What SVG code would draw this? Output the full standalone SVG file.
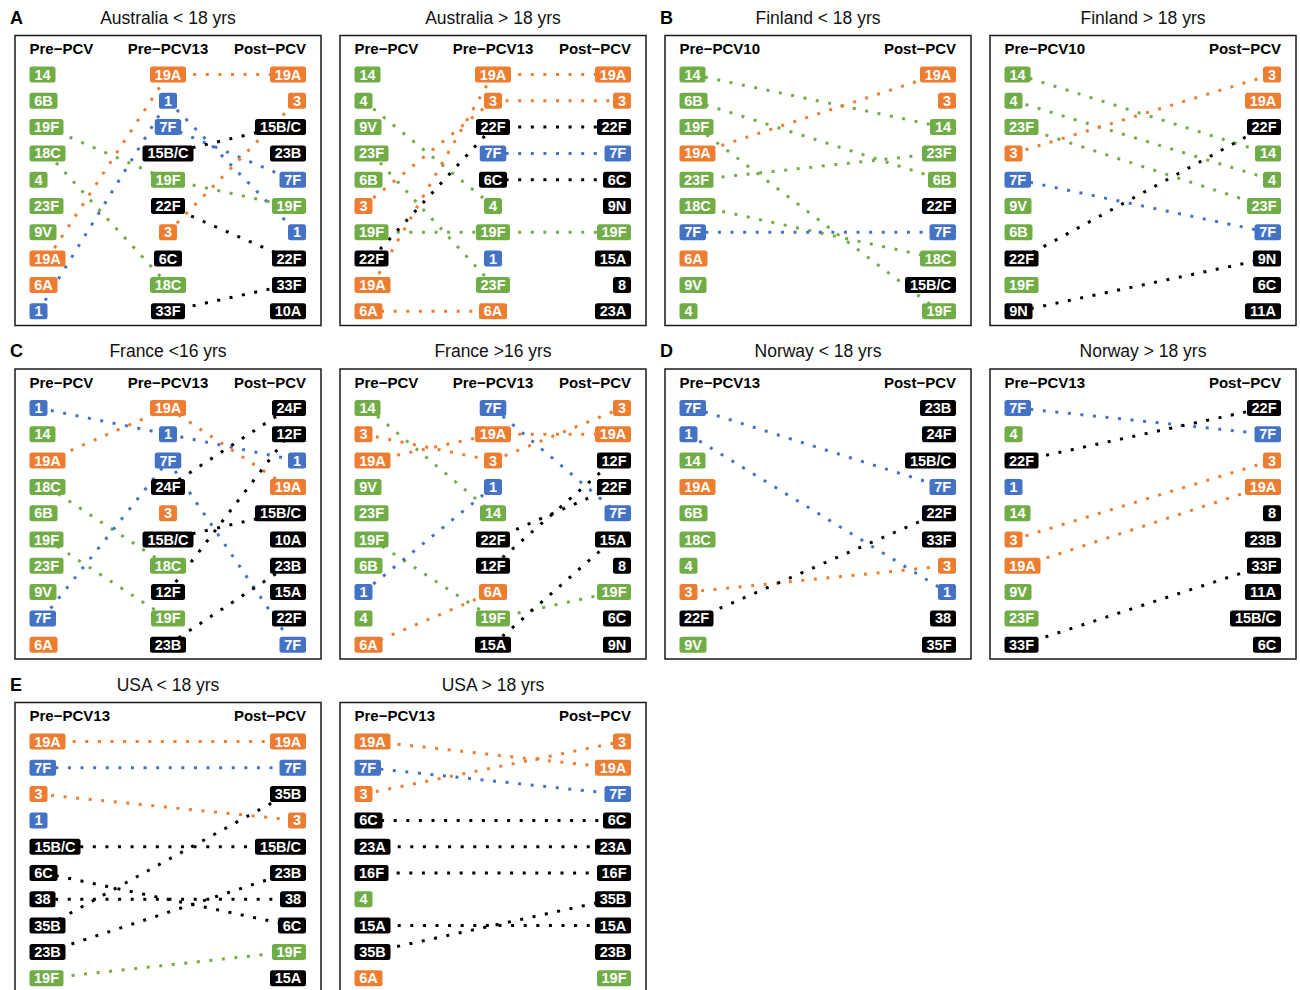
<svg xmlns="http://www.w3.org/2000/svg" width="1300" height="990" viewBox="0 0 1300 990">
<style>
.box{fill:#fff;stroke:#1a1a1a;stroke-width:1.5}
.ttl{font-family:"Liberation Sans",Arial,sans-serif;font-size:17.5px;fill:#111;text-anchor:middle}
.let{font-family:"Liberation Sans",Arial,sans-serif;font-size:18px;font-weight:bold;fill:#000}
.hd{font-family:"Liberation Sans",Arial,sans-serif;font-size:15px;font-weight:bold;fill:#000}
.hm{text-anchor:middle}.he{text-anchor:end}
.nodes text{font-family:"Liberation Sans",Arial,sans-serif;font-size:14.5px;font-weight:bold;fill:#fff;text-anchor:middle}
.nodes rect{height:16px}
.g>rect{fill:#70AD47}.o>rect{fill:#ED7D31}.b>rect{fill:#4472C4}.k>rect{fill:#000}
#connectors line{stroke-width:3;stroke-dasharray:3 9.6;fill:none}
.cg{stroke:#70AD47}.co{stroke:#ED7D31}.cb{stroke:#4472C4}.ck{stroke:#000}
</style>

<g id="panels">
<g transform="translate(15,35.5)"><rect class="box" x="0" y="0" width="306" height="290"/><text class="let" x="-5" y="-12">A</text><text class="ttl" x="153" y="-12">Australia &lt; 18 yrs</text><text class="hd" x="14.5" y="18.5">Pre−PCV</text><text class="hd hm" x="153" y="18.5">Pre−PCV13</text><text class="hd he" x="291" y="18.5">Post−PCV</text></g>
<g transform="translate(340,35.5)"><rect class="box" x="0" y="0" width="306" height="290"/><text class="ttl" x="153" y="-12">Australia &gt; 18 yrs</text><text class="hd" x="14.5" y="18.5">Pre−PCV</text><text class="hd hm" x="153" y="18.5">Pre−PCV13</text><text class="hd he" x="291" y="18.5">Post−PCV</text></g>
<g transform="translate(665,35.5)"><rect class="box" x="0" y="0" width="306" height="290"/><text class="let" x="-5" y="-12">B</text><text class="ttl" x="153" y="-12">Finland &lt; 18 yrs</text><text class="hd" x="14.5" y="18.5">Pre−PCV10</text><text class="hd he" x="291" y="18.5">Post−PCV</text></g>
<g transform="translate(990,35.5)"><rect class="box" x="0" y="0" width="306" height="290"/><text class="ttl" x="153" y="-12">Finland &gt; 18 yrs</text><text class="hd" x="14.5" y="18.5">Pre−PCV10</text><text class="hd he" x="291" y="18.5">Post−PCV</text></g>
<g transform="translate(15,369)"><rect class="box" x="0" y="0" width="306" height="290"/><text class="let" x="-5" y="-12">C</text><text class="ttl" x="153" y="-12">France &lt;16 yrs</text><text class="hd" x="14.5" y="18.5">Pre−PCV</text><text class="hd hm" x="153" y="18.5">Pre−PCV13</text><text class="hd he" x="291" y="18.5">Post−PCV</text></g>
<g transform="translate(340,369)"><rect class="box" x="0" y="0" width="306" height="290"/><text class="ttl" x="153" y="-12">France &gt;16 yrs</text><text class="hd" x="14.5" y="18.5">Pre−PCV</text><text class="hd hm" x="153" y="18.5">Pre−PCV13</text><text class="hd he" x="291" y="18.5">Post−PCV</text></g>
<g transform="translate(665,369)"><rect class="box" x="0" y="0" width="306" height="290"/><text class="let" x="-5" y="-12">D</text><text class="ttl" x="153" y="-12">Norway &lt; 18 yrs</text><text class="hd" x="14.5" y="18.5">Pre−PCV13</text><text class="hd he" x="291" y="18.5">Post−PCV</text></g>
<g transform="translate(990,369)"><rect class="box" x="0" y="0" width="306" height="290"/><text class="ttl" x="153" y="-12">Norway &gt; 18 yrs</text><text class="hd" x="14.5" y="18.5">Pre−PCV13</text><text class="hd he" x="291" y="18.5">Post−PCV</text></g>
<g transform="translate(15,702.5)"><rect class="box" x="0" y="0" width="306" height="290"/><text class="let" x="-5" y="-12">E</text><text class="ttl" x="153" y="-12">USA &lt; 18 yrs</text><text class="hd" x="14.5" y="18.5">Pre−PCV13</text><text class="hd he" x="291" y="18.5">Post−PCV</text></g>
<g transform="translate(340,702.5)"><rect class="box" x="0" y="0" width="306" height="290"/><text class="ttl" x="153" y="-12">USA &gt; 18 yrs</text><text class="hd" x="14.5" y="18.5">Pre−PCV13</text><text class="hd he" x="291" y="18.5">Post−PCV</text></g>
</g>

<g id="connectors">
<g transform="translate(15,35.5)">
<line class="cg" x1="31.5" y1="91.6" x2="153" y2="144.2"/>
<line class="cg" x1="32.5" y1="117.9" x2="153" y2="249.4"/>
<line class="co" x1="32.5" y1="223.1" x2="153" y2="39"/>
<line class="cb" x1="23.5" y1="275.7" x2="153" y2="65.3"/>
<line class="co" x1="153" y1="39" x2="273" y2="39"/>
<line class="cb" x1="153" y1="65.3" x2="282" y2="196.8"/>
<line class="cb" x1="153" y1="91.6" x2="277.75" y2="144.2"/>
<line class="ck" x1="153" y1="117.9" x2="265.5" y2="91.6"/>
<line class="cg" x1="153" y1="144.2" x2="274" y2="170.5"/>
<line class="ck" x1="153" y1="170.5" x2="274" y2="223.1"/>
<line class="co" x1="153" y1="196.8" x2="282" y2="65.3"/>
<line class="ck" x1="153" y1="275.7" x2="274" y2="249.4"/>
</g>
<g transform="translate(340,35.5)">
<line class="cg" x1="23.5" y1="65.3" x2="153" y2="170.5"/>
<line class="cg" x1="31.5" y1="117.9" x2="153" y2="249.4"/>
<line class="co" x1="23.5" y1="170.5" x2="153" y2="65.3"/>
<line class="cg" x1="31.5" y1="196.8" x2="153" y2="196.8"/>
<line class="ck" x1="31.5" y1="223.1" x2="153" y2="91.6"/>
<line class="co" x1="32.5" y1="249.4" x2="153" y2="39"/>
<line class="co" x1="28.5" y1="275.7" x2="153" y2="275.7"/>
<line class="co" x1="153" y1="39" x2="273" y2="39"/>
<line class="co" x1="153" y1="65.3" x2="282" y2="65.3"/>
<line class="ck" x1="153" y1="91.6" x2="274" y2="91.6"/>
<line class="cb" x1="153" y1="117.9" x2="277.75" y2="117.9"/>
<line class="ck" x1="153" y1="144.2" x2="277" y2="144.2"/>
<line class="cg" x1="153" y1="196.8" x2="274" y2="196.8"/>
</g>
<g transform="translate(665,35.5)">
<line class="cg" x1="27.5" y1="39" x2="278" y2="91.6"/>
<line class="cg" x1="28.5" y1="65.3" x2="277" y2="144.2"/>
<line class="cg" x1="31.5" y1="91.6" x2="274" y2="275.7"/>
<line class="co" x1="32.5" y1="117.9" x2="273" y2="39"/>
<line class="cg" x1="31.5" y1="144.2" x2="274" y2="117.9"/>
<line class="cg" x1="32.5" y1="170.5" x2="273" y2="223.1"/>
<line class="cb" x1="27.75" y1="196.8" x2="277.75" y2="196.8"/>
</g>
<g transform="translate(990,35.5)">
<line class="cg" x1="27.5" y1="39" x2="278" y2="117.9"/>
<line class="cg" x1="23.5" y1="65.3" x2="282" y2="144.2"/>
<line class="cg" x1="31.5" y1="91.6" x2="274" y2="170.5"/>
<line class="co" x1="23.5" y1="117.9" x2="282" y2="39"/>
<line class="cb" x1="27.75" y1="144.2" x2="277.75" y2="196.8"/>
<line class="ck" x1="31.5" y1="223.1" x2="274" y2="91.6"/>
<line class="ck" x1="28.5" y1="275.7" x2="277" y2="223.1"/>
</g>
<g transform="translate(15,369)">
<line class="cb" x1="23.5" y1="39" x2="153" y2="65.3"/>
<line class="co" x1="32.5" y1="91.6" x2="153" y2="39"/>
<line class="cg" x1="32.5" y1="117.9" x2="153" y2="196.8"/>
<line class="cg" x1="31.5" y1="170.5" x2="153" y2="249.4"/>
<line class="cb" x1="27.75" y1="249.4" x2="153" y2="91.6"/>
<line class="co" x1="153" y1="39" x2="273" y2="117.9"/>
<line class="cb" x1="153" y1="65.3" x2="282" y2="91.6"/>
<line class="cb" x1="153" y1="91.6" x2="277.75" y2="275.7"/>
<line class="ck" x1="153" y1="117.9" x2="274" y2="39"/>
<line class="ck" x1="153" y1="170.5" x2="265.5" y2="144.2"/>
<line class="ck" x1="153" y1="223.1" x2="274" y2="65.3"/>
<line class="ck" x1="153" y1="275.7" x2="273" y2="196.8"/>
</g>
<g transform="translate(340,369)">
<line class="cg" x1="27.5" y1="39" x2="153" y2="144.2"/>
<line class="co" x1="23.5" y1="65.3" x2="153" y2="91.6"/>
<line class="co" x1="32.5" y1="91.6" x2="153" y2="65.3"/>
<line class="cg" x1="31.5" y1="170.5" x2="153" y2="249.4"/>
<line class="cb" x1="23.5" y1="223.1" x2="153" y2="117.9"/>
<line class="co" x1="28.5" y1="275.7" x2="153" y2="223.1"/>
<line class="cb" x1="153" y1="39" x2="277.75" y2="144.2"/>
<line class="co" x1="153" y1="65.3" x2="273" y2="65.3"/>
<line class="co" x1="153" y1="91.6" x2="282" y2="39"/>
<line class="ck" x1="153" y1="170.5" x2="274" y2="117.9"/>
<line class="ck" x1="153" y1="196.8" x2="274" y2="91.6"/>
<line class="cg" x1="153" y1="249.4" x2="274" y2="223.1"/>
<line class="ck" x1="153" y1="275.7" x2="273" y2="170.5"/>
</g>
<g transform="translate(665,369)">
<line class="cb" x1="27.75" y1="39" x2="277.75" y2="117.9"/>
<line class="cb" x1="23.5" y1="65.3" x2="282" y2="223.1"/>
<line class="co" x1="23.5" y1="223.1" x2="282" y2="196.8"/>
<line class="ck" x1="31.5" y1="249.4" x2="274" y2="144.2"/>
</g>
<g transform="translate(990,369)">
<line class="cb" x1="27.75" y1="39" x2="277.75" y2="65.3"/>
<line class="ck" x1="31.5" y1="91.6" x2="274" y2="39"/>
<line class="co" x1="23.5" y1="170.5" x2="282" y2="91.6"/>
<line class="co" x1="32.5" y1="196.8" x2="273" y2="117.9"/>
<line class="ck" x1="31.5" y1="275.7" x2="274" y2="196.8"/>
</g>
<g transform="translate(15,702.5)">
<line class="co" x1="32.5" y1="39" x2="273" y2="39"/>
<line class="cb" x1="27.75" y1="65.3" x2="277.75" y2="65.3"/>
<line class="co" x1="23.5" y1="91.6" x2="282" y2="117.9"/>
<line class="ck" x1="40" y1="144.2" x2="265.5" y2="144.2"/>
<line class="ck" x1="28.5" y1="170.5" x2="277" y2="223.1"/>
<line class="ck" x1="27.5" y1="196.8" x2="278" y2="196.8"/>
<line class="ck" x1="32.5" y1="223.1" x2="273" y2="91.6"/>
<line class="ck" x1="32.5" y1="249.4" x2="273" y2="170.5"/>
<line class="cg" x1="31.5" y1="275.7" x2="274" y2="249.4"/>
</g>
<g transform="translate(340,702.5)">
<line class="co" x1="32.5" y1="39" x2="273" y2="65.3"/>
<line class="cb" x1="27.75" y1="65.3" x2="277.75" y2="91.6"/>
<line class="co" x1="23.5" y1="91.6" x2="282" y2="39"/>
<line class="ck" x1="28.5" y1="117.9" x2="277" y2="117.9"/>
<line class="ck" x1="32.5" y1="144.2" x2="273" y2="144.2"/>
<line class="ck" x1="31.5" y1="170.5" x2="274" y2="170.5"/>
<line class="ck" x1="32.5" y1="223.1" x2="273" y2="223.1"/>
<line class="ck" x1="32.5" y1="249.4" x2="273" y2="196.8"/>
</g>
</g>

<g class="nodes">
<g transform="translate(15,35.5)">
<g id="A1-L-14" class="g" transform="translate(27.5,39)"><rect x="-13" y="-8" width="26" rx="2.5"/><text y="5">14</text></g>
<g id="A1-L-6B" class="g" transform="translate(28.5,65.3)"><rect x="-14" y="-8" width="28" rx="2.5"/><text y="5">6B</text></g>
<g id="A1-L-19F" class="g" transform="translate(31.5,91.6)"><rect x="-17" y="-8" width="34" rx="2.5"/><text y="5">19F</text></g>
<g id="A1-L-18C" class="g" transform="translate(32.5,117.9)"><rect x="-18" y="-8" width="36" rx="2.5"/><text y="5">18C</text></g>
<g id="A1-L-4" class="g" transform="translate(23.5,144.2)"><rect x="-9" y="-8" width="18" rx="2.5"/><text y="5">4</text></g>
<g id="A1-L-23F" class="g" transform="translate(31.5,170.5)"><rect x="-17" y="-8" width="34" rx="2.5"/><text y="5">23F</text></g>
<g id="A1-L-9V" class="g" transform="translate(28,196.8)"><rect x="-13.5" y="-8" width="27" rx="2.5"/><text y="5">9V</text></g>
<g id="A1-L-19A" class="o" transform="translate(32.5,223.1)"><rect x="-18" y="-8" width="36" rx="2.5"/><text y="5">19A</text></g>
<g id="A1-L-6A" class="o" transform="translate(28.5,249.4)"><rect x="-14" y="-8" width="28" rx="2.5"/><text y="5">6A</text></g>
<g id="A1-L-1" class="b" transform="translate(23.5,275.7)"><rect x="-9" y="-8" width="18" rx="2.5"/><text y="5">1</text></g>
<g id="A1-M-19A" class="o" transform="translate(153,39)"><rect x="-18" y="-8" width="36" rx="2.5"/><text y="5">19A</text></g>
<g id="A1-M-1" class="b" transform="translate(153,65.3)"><rect x="-9" y="-8" width="18" rx="2.5"/><text y="5">1</text></g>
<g id="A1-M-7F" class="b" transform="translate(153,91.6)"><rect x="-13.25" y="-8" width="26.5" rx="2.5"/><text y="5">7F</text></g>
<g id="A1-M-15BC" class="k" transform="translate(153,117.9)"><rect x="-25.5" y="-8" width="51" rx="2.5"/><text y="5">15B/C</text></g>
<g id="A1-M-19F" class="g" transform="translate(153,144.2)"><rect x="-17" y="-8" width="34" rx="2.5"/><text y="5">19F</text></g>
<g id="A1-M-22F" class="k" transform="translate(153,170.5)"><rect x="-17" y="-8" width="34" rx="2.5"/><text y="5">22F</text></g>
<g id="A1-M-3" class="o" transform="translate(153,196.8)"><rect x="-9" y="-8" width="18" rx="2.5"/><text y="5">3</text></g>
<g id="A1-M-6C" class="k" transform="translate(153,223.1)"><rect x="-14" y="-8" width="28" rx="2.5"/><text y="5">6C</text></g>
<g id="A1-M-18C" class="g" transform="translate(153,249.4)"><rect x="-18" y="-8" width="36" rx="2.5"/><text y="5">18C</text></g>
<g id="A1-M-33F" class="k" transform="translate(153,275.7)"><rect x="-17" y="-8" width="34" rx="2.5"/><text y="5">33F</text></g>
<g id="A1-R-19A" class="o" transform="translate(273,39)"><rect x="-18" y="-8" width="36" rx="2.5"/><text y="5">19A</text></g>
<g id="A1-R-3" class="o" transform="translate(282,65.3)"><rect x="-9" y="-8" width="18" rx="2.5"/><text y="5">3</text></g>
<g id="A1-R-15BC" class="k" transform="translate(265.5,91.6)"><rect x="-25.5" y="-8" width="51" rx="2.5"/><text y="5">15B/C</text></g>
<g id="A1-R-23B" class="k" transform="translate(273,117.9)"><rect x="-18" y="-8" width="36" rx="2.5"/><text y="5">23B</text></g>
<g id="A1-R-7F" class="b" transform="translate(277.75,144.2)"><rect x="-13.25" y="-8" width="26.5" rx="2.5"/><text y="5">7F</text></g>
<g id="A1-R-19F" class="g" transform="translate(274,170.5)"><rect x="-17" y="-8" width="34" rx="2.5"/><text y="5">19F</text></g>
<g id="A1-R-1" class="b" transform="translate(282,196.8)"><rect x="-9" y="-8" width="18" rx="2.5"/><text y="5">1</text></g>
<g id="A1-R-22F" class="k" transform="translate(274,223.1)"><rect x="-17" y="-8" width="34" rx="2.5"/><text y="5">22F</text></g>
<g id="A1-R-33F" class="k" transform="translate(274,249.4)"><rect x="-17" y="-8" width="34" rx="2.5"/><text y="5">33F</text></g>
<g id="A1-R-10A" class="k" transform="translate(273,275.7)"><rect x="-18" y="-8" width="36" rx="2.5"/><text y="5">10A</text></g>
</g>

<g transform="translate(340,35.5)">
<g id="A2-L-14" class="g" transform="translate(27.5,39)"><rect x="-13" y="-8" width="26" rx="2.5"/><text y="5">14</text></g>
<g id="A2-L-4" class="g" transform="translate(23.5,65.3)"><rect x="-9" y="-8" width="18" rx="2.5"/><text y="5">4</text></g>
<g id="A2-L-9V" class="g" transform="translate(28,91.6)"><rect x="-13.5" y="-8" width="27" rx="2.5"/><text y="5">9V</text></g>
<g id="A2-L-23F" class="g" transform="translate(31.5,117.9)"><rect x="-17" y="-8" width="34" rx="2.5"/><text y="5">23F</text></g>
<g id="A2-L-6B" class="g" transform="translate(28.5,144.2)"><rect x="-14" y="-8" width="28" rx="2.5"/><text y="5">6B</text></g>
<g id="A2-L-3" class="o" transform="translate(23.5,170.5)"><rect x="-9" y="-8" width="18" rx="2.5"/><text y="5">3</text></g>
<g id="A2-L-19F" class="g" transform="translate(31.5,196.8)"><rect x="-17" y="-8" width="34" rx="2.5"/><text y="5">19F</text></g>
<g id="A2-L-22F" class="k" transform="translate(31.5,223.1)"><rect x="-17" y="-8" width="34" rx="2.5"/><text y="5">22F</text></g>
<g id="A2-L-19A" class="o" transform="translate(32.5,249.4)"><rect x="-18" y="-8" width="36" rx="2.5"/><text y="5">19A</text></g>
<g id="A2-L-6A" class="o" transform="translate(28.5,275.7)"><rect x="-14" y="-8" width="28" rx="2.5"/><text y="5">6A</text></g>
<g id="A2-M-19A" class="o" transform="translate(153,39)"><rect x="-18" y="-8" width="36" rx="2.5"/><text y="5">19A</text></g>
<g id="A2-M-3" class="o" transform="translate(153,65.3)"><rect x="-9" y="-8" width="18" rx="2.5"/><text y="5">3</text></g>
<g id="A2-M-22F" class="k" transform="translate(153,91.6)"><rect x="-17" y="-8" width="34" rx="2.5"/><text y="5">22F</text></g>
<g id="A2-M-7F" class="b" transform="translate(153,117.9)"><rect x="-13.25" y="-8" width="26.5" rx="2.5"/><text y="5">7F</text></g>
<g id="A2-M-6C" class="k" transform="translate(153,144.2)"><rect x="-14" y="-8" width="28" rx="2.5"/><text y="5">6C</text></g>
<g id="A2-M-4" class="g" transform="translate(153,170.5)"><rect x="-9" y="-8" width="18" rx="2.5"/><text y="5">4</text></g>
<g id="A2-M-19F" class="g" transform="translate(153,196.8)"><rect x="-17" y="-8" width="34" rx="2.5"/><text y="5">19F</text></g>
<g id="A2-M-1" class="b" transform="translate(153,223.1)"><rect x="-9" y="-8" width="18" rx="2.5"/><text y="5">1</text></g>
<g id="A2-M-23F" class="g" transform="translate(153,249.4)"><rect x="-17" y="-8" width="34" rx="2.5"/><text y="5">23F</text></g>
<g id="A2-M-6A" class="o" transform="translate(153,275.7)"><rect x="-14" y="-8" width="28" rx="2.5"/><text y="5">6A</text></g>
<g id="A2-R-19A" class="o" transform="translate(273,39)"><rect x="-18" y="-8" width="36" rx="2.5"/><text y="5">19A</text></g>
<g id="A2-R-3" class="o" transform="translate(282,65.3)"><rect x="-9" y="-8" width="18" rx="2.5"/><text y="5">3</text></g>
<g id="A2-R-22F" class="k" transform="translate(274,91.6)"><rect x="-17" y="-8" width="34" rx="2.5"/><text y="5">22F</text></g>
<g id="A2-R-7F" class="b" transform="translate(277.75,117.9)"><rect x="-13.25" y="-8" width="26.5" rx="2.5"/><text y="5">7F</text></g>
<g id="A2-R-6C" class="k" transform="translate(277,144.2)"><rect x="-14" y="-8" width="28" rx="2.5"/><text y="5">6C</text></g>
<g id="A2-R-9N" class="k" transform="translate(277,170.5)"><rect x="-14" y="-8" width="28" rx="2.5"/><text y="5">9N</text></g>
<g id="A2-R-19F" class="g" transform="translate(274,196.8)"><rect x="-17" y="-8" width="34" rx="2.5"/><text y="5">19F</text></g>
<g id="A2-R-15A" class="k" transform="translate(273,223.1)"><rect x="-18" y="-8" width="36" rx="2.5"/><text y="5">15A</text></g>
<g id="A2-R-8" class="k" transform="translate(282,249.4)"><rect x="-9" y="-8" width="18" rx="2.5"/><text y="5">8</text></g>
<g id="A2-R-23A" class="k" transform="translate(273,275.7)"><rect x="-18" y="-8" width="36" rx="2.5"/><text y="5">23A</text></g>
</g>

<g transform="translate(665,35.5)">
<g id="B1-L-14" class="g" transform="translate(27.5,39)"><rect x="-13" y="-8" width="26" rx="2.5"/><text y="5">14</text></g>
<g id="B1-L-6B" class="g" transform="translate(28.5,65.3)"><rect x="-14" y="-8" width="28" rx="2.5"/><text y="5">6B</text></g>
<g id="B1-L-19F" class="g" transform="translate(31.5,91.6)"><rect x="-17" y="-8" width="34" rx="2.5"/><text y="5">19F</text></g>
<g id="B1-L-19A" class="o" transform="translate(32.5,117.9)"><rect x="-18" y="-8" width="36" rx="2.5"/><text y="5">19A</text></g>
<g id="B1-L-23F" class="g" transform="translate(31.5,144.2)"><rect x="-17" y="-8" width="34" rx="2.5"/><text y="5">23F</text></g>
<g id="B1-L-18C" class="g" transform="translate(32.5,170.5)"><rect x="-18" y="-8" width="36" rx="2.5"/><text y="5">18C</text></g>
<g id="B1-L-7F" class="b" transform="translate(27.75,196.8)"><rect x="-13.25" y="-8" width="26.5" rx="2.5"/><text y="5">7F</text></g>
<g id="B1-L-6A" class="o" transform="translate(28.5,223.1)"><rect x="-14" y="-8" width="28" rx="2.5"/><text y="5">6A</text></g>
<g id="B1-L-9V" class="g" transform="translate(28,249.4)"><rect x="-13.5" y="-8" width="27" rx="2.5"/><text y="5">9V</text></g>
<g id="B1-L-4" class="g" transform="translate(23.5,275.7)"><rect x="-9" y="-8" width="18" rx="2.5"/><text y="5">4</text></g>
<g id="B1-R-19A" class="o" transform="translate(273,39)"><rect x="-18" y="-8" width="36" rx="2.5"/><text y="5">19A</text></g>
<g id="B1-R-3" class="o" transform="translate(282,65.3)"><rect x="-9" y="-8" width="18" rx="2.5"/><text y="5">3</text></g>
<g id="B1-R-14" class="g" transform="translate(278,91.6)"><rect x="-13" y="-8" width="26" rx="2.5"/><text y="5">14</text></g>
<g id="B1-R-23F" class="g" transform="translate(274,117.9)"><rect x="-17" y="-8" width="34" rx="2.5"/><text y="5">23F</text></g>
<g id="B1-R-6B" class="g" transform="translate(277,144.2)"><rect x="-14" y="-8" width="28" rx="2.5"/><text y="5">6B</text></g>
<g id="B1-R-22F" class="k" transform="translate(274,170.5)"><rect x="-17" y="-8" width="34" rx="2.5"/><text y="5">22F</text></g>
<g id="B1-R-7F" class="b" transform="translate(277.75,196.8)"><rect x="-13.25" y="-8" width="26.5" rx="2.5"/><text y="5">7F</text></g>
<g id="B1-R-18C" class="g" transform="translate(273,223.1)"><rect x="-18" y="-8" width="36" rx="2.5"/><text y="5">18C</text></g>
<g id="B1-R-15BC" class="k" transform="translate(265.5,249.4)"><rect x="-25.5" y="-8" width="51" rx="2.5"/><text y="5">15B/C</text></g>
<g id="B1-R-19F" class="g" transform="translate(274,275.7)"><rect x="-17" y="-8" width="34" rx="2.5"/><text y="5">19F</text></g>
</g>

<g transform="translate(990,35.5)">
<g id="B2-L-14" class="g" transform="translate(27.5,39)"><rect x="-13" y="-8" width="26" rx="2.5"/><text y="5">14</text></g>
<g id="B2-L-4" class="g" transform="translate(23.5,65.3)"><rect x="-9" y="-8" width="18" rx="2.5"/><text y="5">4</text></g>
<g id="B2-L-23F" class="g" transform="translate(31.5,91.6)"><rect x="-17" y="-8" width="34" rx="2.5"/><text y="5">23F</text></g>
<g id="B2-L-3" class="o" transform="translate(23.5,117.9)"><rect x="-9" y="-8" width="18" rx="2.5"/><text y="5">3</text></g>
<g id="B2-L-7F" class="b" transform="translate(27.75,144.2)"><rect x="-13.25" y="-8" width="26.5" rx="2.5"/><text y="5">7F</text></g>
<g id="B2-L-9V" class="g" transform="translate(28,170.5)"><rect x="-13.5" y="-8" width="27" rx="2.5"/><text y="5">9V</text></g>
<g id="B2-L-6B" class="g" transform="translate(28.5,196.8)"><rect x="-14" y="-8" width="28" rx="2.5"/><text y="5">6B</text></g>
<g id="B2-L-22F" class="k" transform="translate(31.5,223.1)"><rect x="-17" y="-8" width="34" rx="2.5"/><text y="5">22F</text></g>
<g id="B2-L-19F" class="g" transform="translate(31.5,249.4)"><rect x="-17" y="-8" width="34" rx="2.5"/><text y="5">19F</text></g>
<g id="B2-L-9N" class="k" transform="translate(28.5,275.7)"><rect x="-14" y="-8" width="28" rx="2.5"/><text y="5">9N</text></g>
<g id="B2-R-3" class="o" transform="translate(282,39)"><rect x="-9" y="-8" width="18" rx="2.5"/><text y="5">3</text></g>
<g id="B2-R-19A" class="o" transform="translate(273,65.3)"><rect x="-18" y="-8" width="36" rx="2.5"/><text y="5">19A</text></g>
<g id="B2-R-22F" class="k" transform="translate(274,91.6)"><rect x="-17" y="-8" width="34" rx="2.5"/><text y="5">22F</text></g>
<g id="B2-R-14" class="g" transform="translate(278,117.9)"><rect x="-13" y="-8" width="26" rx="2.5"/><text y="5">14</text></g>
<g id="B2-R-4" class="g" transform="translate(282,144.2)"><rect x="-9" y="-8" width="18" rx="2.5"/><text y="5">4</text></g>
<g id="B2-R-23F" class="g" transform="translate(274,170.5)"><rect x="-17" y="-8" width="34" rx="2.5"/><text y="5">23F</text></g>
<g id="B2-R-7F" class="b" transform="translate(277.75,196.8)"><rect x="-13.25" y="-8" width="26.5" rx="2.5"/><text y="5">7F</text></g>
<g id="B2-R-9N" class="k" transform="translate(277,223.1)"><rect x="-14" y="-8" width="28" rx="2.5"/><text y="5">9N</text></g>
<g id="B2-R-6C" class="k" transform="translate(277,249.4)"><rect x="-14" y="-8" width="28" rx="2.5"/><text y="5">6C</text></g>
<g id="B2-R-11A" class="k" transform="translate(273,275.7)"><rect x="-18" y="-8" width="36" rx="2.5"/><text y="5">11A</text></g>
</g>

<g transform="translate(15,369)">
<g id="C1-L-1" class="b" transform="translate(23.5,39)"><rect x="-9" y="-8" width="18" rx="2.5"/><text y="5">1</text></g>
<g id="C1-L-14" class="g" transform="translate(27.5,65.3)"><rect x="-13" y="-8" width="26" rx="2.5"/><text y="5">14</text></g>
<g id="C1-L-19A" class="o" transform="translate(32.5,91.6)"><rect x="-18" y="-8" width="36" rx="2.5"/><text y="5">19A</text></g>
<g id="C1-L-18C" class="g" transform="translate(32.5,117.9)"><rect x="-18" y="-8" width="36" rx="2.5"/><text y="5">18C</text></g>
<g id="C1-L-6B" class="g" transform="translate(28.5,144.2)"><rect x="-14" y="-8" width="28" rx="2.5"/><text y="5">6B</text></g>
<g id="C1-L-19F" class="g" transform="translate(31.5,170.5)"><rect x="-17" y="-8" width="34" rx="2.5"/><text y="5">19F</text></g>
<g id="C1-L-23F" class="g" transform="translate(31.5,196.8)"><rect x="-17" y="-8" width="34" rx="2.5"/><text y="5">23F</text></g>
<g id="C1-L-9V" class="g" transform="translate(28,223.1)"><rect x="-13.5" y="-8" width="27" rx="2.5"/><text y="5">9V</text></g>
<g id="C1-L-7F" class="b" transform="translate(27.75,249.4)"><rect x="-13.25" y="-8" width="26.5" rx="2.5"/><text y="5">7F</text></g>
<g id="C1-L-6A" class="o" transform="translate(28.5,275.7)"><rect x="-14" y="-8" width="28" rx="2.5"/><text y="5">6A</text></g>
<g id="C1-M-19A" class="o" transform="translate(153,39)"><rect x="-18" y="-8" width="36" rx="2.5"/><text y="5">19A</text></g>
<g id="C1-M-1" class="b" transform="translate(153,65.3)"><rect x="-9" y="-8" width="18" rx="2.5"/><text y="5">1</text></g>
<g id="C1-M-7F" class="b" transform="translate(153,91.6)"><rect x="-13.25" y="-8" width="26.5" rx="2.5"/><text y="5">7F</text></g>
<g id="C1-M-24F" class="k" transform="translate(153,117.9)"><rect x="-17" y="-8" width="34" rx="2.5"/><text y="5">24F</text></g>
<g id="C1-M-3" class="o" transform="translate(153,144.2)"><rect x="-9" y="-8" width="18" rx="2.5"/><text y="5">3</text></g>
<g id="C1-M-15BC" class="k" transform="translate(153,170.5)"><rect x="-25.5" y="-8" width="51" rx="2.5"/><text y="5">15B/C</text></g>
<g id="C1-M-18C" class="g" transform="translate(153,196.8)"><rect x="-18" y="-8" width="36" rx="2.5"/><text y="5">18C</text></g>
<g id="C1-M-12F" class="k" transform="translate(153,223.1)"><rect x="-17" y="-8" width="34" rx="2.5"/><text y="5">12F</text></g>
<g id="C1-M-19F" class="g" transform="translate(153,249.4)"><rect x="-17" y="-8" width="34" rx="2.5"/><text y="5">19F</text></g>
<g id="C1-M-23B" class="k" transform="translate(153,275.7)"><rect x="-18" y="-8" width="36" rx="2.5"/><text y="5">23B</text></g>
<g id="C1-R-24F" class="k" transform="translate(274,39)"><rect x="-17" y="-8" width="34" rx="2.5"/><text y="5">24F</text></g>
<g id="C1-R-12F" class="k" transform="translate(274,65.3)"><rect x="-17" y="-8" width="34" rx="2.5"/><text y="5">12F</text></g>
<g id="C1-R-1" class="b" transform="translate(282,91.6)"><rect x="-9" y="-8" width="18" rx="2.5"/><text y="5">1</text></g>
<g id="C1-R-19A" class="o" transform="translate(273,117.9)"><rect x="-18" y="-8" width="36" rx="2.5"/><text y="5">19A</text></g>
<g id="C1-R-15BC" class="k" transform="translate(265.5,144.2)"><rect x="-25.5" y="-8" width="51" rx="2.5"/><text y="5">15B/C</text></g>
<g id="C1-R-10A" class="k" transform="translate(273,170.5)"><rect x="-18" y="-8" width="36" rx="2.5"/><text y="5">10A</text></g>
<g id="C1-R-23B" class="k" transform="translate(273,196.8)"><rect x="-18" y="-8" width="36" rx="2.5"/><text y="5">23B</text></g>
<g id="C1-R-15A" class="k" transform="translate(273,223.1)"><rect x="-18" y="-8" width="36" rx="2.5"/><text y="5">15A</text></g>
<g id="C1-R-22F" class="k" transform="translate(274,249.4)"><rect x="-17" y="-8" width="34" rx="2.5"/><text y="5">22F</text></g>
<g id="C1-R-7F" class="b" transform="translate(277.75,275.7)"><rect x="-13.25" y="-8" width="26.5" rx="2.5"/><text y="5">7F</text></g>
</g>

<g transform="translate(340,369)">
<g id="C2-L-14" class="g" transform="translate(27.5,39)"><rect x="-13" y="-8" width="26" rx="2.5"/><text y="5">14</text></g>
<g id="C2-L-3" class="o" transform="translate(23.5,65.3)"><rect x="-9" y="-8" width="18" rx="2.5"/><text y="5">3</text></g>
<g id="C2-L-19A" class="o" transform="translate(32.5,91.6)"><rect x="-18" y="-8" width="36" rx="2.5"/><text y="5">19A</text></g>
<g id="C2-L-9V" class="g" transform="translate(28,117.9)"><rect x="-13.5" y="-8" width="27" rx="2.5"/><text y="5">9V</text></g>
<g id="C2-L-23F" class="g" transform="translate(31.5,144.2)"><rect x="-17" y="-8" width="34" rx="2.5"/><text y="5">23F</text></g>
<g id="C2-L-19F" class="g" transform="translate(31.5,170.5)"><rect x="-17" y="-8" width="34" rx="2.5"/><text y="5">19F</text></g>
<g id="C2-L-6B" class="g" transform="translate(28.5,196.8)"><rect x="-14" y="-8" width="28" rx="2.5"/><text y="5">6B</text></g>
<g id="C2-L-1" class="b" transform="translate(23.5,223.1)"><rect x="-9" y="-8" width="18" rx="2.5"/><text y="5">1</text></g>
<g id="C2-L-4" class="g" transform="translate(23.5,249.4)"><rect x="-9" y="-8" width="18" rx="2.5"/><text y="5">4</text></g>
<g id="C2-L-6A" class="o" transform="translate(28.5,275.7)"><rect x="-14" y="-8" width="28" rx="2.5"/><text y="5">6A</text></g>
<g id="C2-M-7F" class="b" transform="translate(153,39)"><rect x="-13.25" y="-8" width="26.5" rx="2.5"/><text y="5">7F</text></g>
<g id="C2-M-19A" class="o" transform="translate(153,65.3)"><rect x="-18" y="-8" width="36" rx="2.5"/><text y="5">19A</text></g>
<g id="C2-M-3" class="o" transform="translate(153,91.6)"><rect x="-9" y="-8" width="18" rx="2.5"/><text y="5">3</text></g>
<g id="C2-M-1" class="b" transform="translate(153,117.9)"><rect x="-9" y="-8" width="18" rx="2.5"/><text y="5">1</text></g>
<g id="C2-M-14" class="g" transform="translate(153,144.2)"><rect x="-13" y="-8" width="26" rx="2.5"/><text y="5">14</text></g>
<g id="C2-M-22F" class="k" transform="translate(153,170.5)"><rect x="-17" y="-8" width="34" rx="2.5"/><text y="5">22F</text></g>
<g id="C2-M-12F" class="k" transform="translate(153,196.8)"><rect x="-17" y="-8" width="34" rx="2.5"/><text y="5">12F</text></g>
<g id="C2-M-6A" class="o" transform="translate(153,223.1)"><rect x="-14" y="-8" width="28" rx="2.5"/><text y="5">6A</text></g>
<g id="C2-M-19F" class="g" transform="translate(153,249.4)"><rect x="-17" y="-8" width="34" rx="2.5"/><text y="5">19F</text></g>
<g id="C2-M-15A" class="k" transform="translate(153,275.7)"><rect x="-18" y="-8" width="36" rx="2.5"/><text y="5">15A</text></g>
<g id="C2-R-3" class="o" transform="translate(282,39)"><rect x="-9" y="-8" width="18" rx="2.5"/><text y="5">3</text></g>
<g id="C2-R-19A" class="o" transform="translate(273,65.3)"><rect x="-18" y="-8" width="36" rx="2.5"/><text y="5">19A</text></g>
<g id="C2-R-12F" class="k" transform="translate(274,91.6)"><rect x="-17" y="-8" width="34" rx="2.5"/><text y="5">12F</text></g>
<g id="C2-R-22F" class="k" transform="translate(274,117.9)"><rect x="-17" y="-8" width="34" rx="2.5"/><text y="5">22F</text></g>
<g id="C2-R-7F" class="b" transform="translate(277.75,144.2)"><rect x="-13.25" y="-8" width="26.5" rx="2.5"/><text y="5">7F</text></g>
<g id="C2-R-15A" class="k" transform="translate(273,170.5)"><rect x="-18" y="-8" width="36" rx="2.5"/><text y="5">15A</text></g>
<g id="C2-R-8" class="k" transform="translate(282,196.8)"><rect x="-9" y="-8" width="18" rx="2.5"/><text y="5">8</text></g>
<g id="C2-R-19F" class="g" transform="translate(274,223.1)"><rect x="-17" y="-8" width="34" rx="2.5"/><text y="5">19F</text></g>
<g id="C2-R-6C" class="k" transform="translate(277,249.4)"><rect x="-14" y="-8" width="28" rx="2.5"/><text y="5">6C</text></g>
<g id="C2-R-9N" class="k" transform="translate(277,275.7)"><rect x="-14" y="-8" width="28" rx="2.5"/><text y="5">9N</text></g>
</g>

<g transform="translate(665,369)">
<g id="D1-L-7F" class="b" transform="translate(27.75,39)"><rect x="-13.25" y="-8" width="26.5" rx="2.5"/><text y="5">7F</text></g>
<g id="D1-L-1" class="b" transform="translate(23.5,65.3)"><rect x="-9" y="-8" width="18" rx="2.5"/><text y="5">1</text></g>
<g id="D1-L-14" class="g" transform="translate(27.5,91.6)"><rect x="-13" y="-8" width="26" rx="2.5"/><text y="5">14</text></g>
<g id="D1-L-19A" class="o" transform="translate(32.5,117.9)"><rect x="-18" y="-8" width="36" rx="2.5"/><text y="5">19A</text></g>
<g id="D1-L-6B" class="g" transform="translate(28.5,144.2)"><rect x="-14" y="-8" width="28" rx="2.5"/><text y="5">6B</text></g>
<g id="D1-L-18C" class="g" transform="translate(32.5,170.5)"><rect x="-18" y="-8" width="36" rx="2.5"/><text y="5">18C</text></g>
<g id="D1-L-4" class="g" transform="translate(23.5,196.8)"><rect x="-9" y="-8" width="18" rx="2.5"/><text y="5">4</text></g>
<g id="D1-L-3" class="o" transform="translate(23.5,223.1)"><rect x="-9" y="-8" width="18" rx="2.5"/><text y="5">3</text></g>
<g id="D1-L-22F" class="k" transform="translate(31.5,249.4)"><rect x="-17" y="-8" width="34" rx="2.5"/><text y="5">22F</text></g>
<g id="D1-L-9V" class="g" transform="translate(28,275.7)"><rect x="-13.5" y="-8" width="27" rx="2.5"/><text y="5">9V</text></g>
<g id="D1-R-23B" class="k" transform="translate(273,39)"><rect x="-18" y="-8" width="36" rx="2.5"/><text y="5">23B</text></g>
<g id="D1-R-24F" class="k" transform="translate(274,65.3)"><rect x="-17" y="-8" width="34" rx="2.5"/><text y="5">24F</text></g>
<g id="D1-R-15BC" class="k" transform="translate(265.5,91.6)"><rect x="-25.5" y="-8" width="51" rx="2.5"/><text y="5">15B/C</text></g>
<g id="D1-R-7F" class="b" transform="translate(277.75,117.9)"><rect x="-13.25" y="-8" width="26.5" rx="2.5"/><text y="5">7F</text></g>
<g id="D1-R-22F" class="k" transform="translate(274,144.2)"><rect x="-17" y="-8" width="34" rx="2.5"/><text y="5">22F</text></g>
<g id="D1-R-33F" class="k" transform="translate(274,170.5)"><rect x="-17" y="-8" width="34" rx="2.5"/><text y="5">33F</text></g>
<g id="D1-R-3" class="o" transform="translate(282,196.8)"><rect x="-9" y="-8" width="18" rx="2.5"/><text y="5">3</text></g>
<g id="D1-R-1" class="b" transform="translate(282,223.1)"><rect x="-9" y="-8" width="18" rx="2.5"/><text y="5">1</text></g>
<g id="D1-R-38" class="k" transform="translate(278,249.4)"><rect x="-13" y="-8" width="26" rx="2.5"/><text y="5">38</text></g>
<g id="D1-R-35F" class="k" transform="translate(274,275.7)"><rect x="-17" y="-8" width="34" rx="2.5"/><text y="5">35F</text></g>
</g>

<g transform="translate(990,369)">
<g id="D2-L-7F" class="b" transform="translate(27.75,39)"><rect x="-13.25" y="-8" width="26.5" rx="2.5"/><text y="5">7F</text></g>
<g id="D2-L-4" class="g" transform="translate(23.5,65.3)"><rect x="-9" y="-8" width="18" rx="2.5"/><text y="5">4</text></g>
<g id="D2-L-22F" class="k" transform="translate(31.5,91.6)"><rect x="-17" y="-8" width="34" rx="2.5"/><text y="5">22F</text></g>
<g id="D2-L-1" class="b" transform="translate(23.5,117.9)"><rect x="-9" y="-8" width="18" rx="2.5"/><text y="5">1</text></g>
<g id="D2-L-14" class="g" transform="translate(27.5,144.2)"><rect x="-13" y="-8" width="26" rx="2.5"/><text y="5">14</text></g>
<g id="D2-L-3" class="o" transform="translate(23.5,170.5)"><rect x="-9" y="-8" width="18" rx="2.5"/><text y="5">3</text></g>
<g id="D2-L-19A" class="o" transform="translate(32.5,196.8)"><rect x="-18" y="-8" width="36" rx="2.5"/><text y="5">19A</text></g>
<g id="D2-L-9V" class="g" transform="translate(28,223.1)"><rect x="-13.5" y="-8" width="27" rx="2.5"/><text y="5">9V</text></g>
<g id="D2-L-23F" class="g" transform="translate(31.5,249.4)"><rect x="-17" y="-8" width="34" rx="2.5"/><text y="5">23F</text></g>
<g id="D2-L-33F" class="k" transform="translate(31.5,275.7)"><rect x="-17" y="-8" width="34" rx="2.5"/><text y="5">33F</text></g>
<g id="D2-R-22F" class="k" transform="translate(274,39)"><rect x="-17" y="-8" width="34" rx="2.5"/><text y="5">22F</text></g>
<g id="D2-R-7F" class="b" transform="translate(277.75,65.3)"><rect x="-13.25" y="-8" width="26.5" rx="2.5"/><text y="5">7F</text></g>
<g id="D2-R-3" class="o" transform="translate(282,91.6)"><rect x="-9" y="-8" width="18" rx="2.5"/><text y="5">3</text></g>
<g id="D2-R-19A" class="o" transform="translate(273,117.9)"><rect x="-18" y="-8" width="36" rx="2.5"/><text y="5">19A</text></g>
<g id="D2-R-8" class="k" transform="translate(282,144.2)"><rect x="-9" y="-8" width="18" rx="2.5"/><text y="5">8</text></g>
<g id="D2-R-23B" class="k" transform="translate(273,170.5)"><rect x="-18" y="-8" width="36" rx="2.5"/><text y="5">23B</text></g>
<g id="D2-R-33F" class="k" transform="translate(274,196.8)"><rect x="-17" y="-8" width="34" rx="2.5"/><text y="5">33F</text></g>
<g id="D2-R-11A" class="k" transform="translate(273,223.1)"><rect x="-18" y="-8" width="36" rx="2.5"/><text y="5">11A</text></g>
<g id="D2-R-15BC" class="k" transform="translate(265.5,249.4)"><rect x="-25.5" y="-8" width="51" rx="2.5"/><text y="5">15B/C</text></g>
<g id="D2-R-6C" class="k" transform="translate(277,275.7)"><rect x="-14" y="-8" width="28" rx="2.5"/><text y="5">6C</text></g>
</g>

<g transform="translate(15,702.5)">
<g id="E1-L-19A" class="o" transform="translate(32.5,39)"><rect x="-18" y="-8" width="36" rx="2.5"/><text y="5">19A</text></g>
<g id="E1-L-7F" class="b" transform="translate(27.75,65.3)"><rect x="-13.25" y="-8" width="26.5" rx="2.5"/><text y="5">7F</text></g>
<g id="E1-L-3" class="o" transform="translate(23.5,91.6)"><rect x="-9" y="-8" width="18" rx="2.5"/><text y="5">3</text></g>
<g id="E1-L-1" class="b" transform="translate(23.5,117.9)"><rect x="-9" y="-8" width="18" rx="2.5"/><text y="5">1</text></g>
<g id="E1-L-15BC" class="k" transform="translate(40,144.2)"><rect x="-25.5" y="-8" width="51" rx="2.5"/><text y="5">15B/C</text></g>
<g id="E1-L-6C" class="k" transform="translate(28.5,170.5)"><rect x="-14" y="-8" width="28" rx="2.5"/><text y="5">6C</text></g>
<g id="E1-L-38" class="k" transform="translate(27.5,196.8)"><rect x="-13" y="-8" width="26" rx="2.5"/><text y="5">38</text></g>
<g id="E1-L-35B" class="k" transform="translate(32.5,223.1)"><rect x="-18" y="-8" width="36" rx="2.5"/><text y="5">35B</text></g>
<g id="E1-L-23B" class="k" transform="translate(32.5,249.4)"><rect x="-18" y="-8" width="36" rx="2.5"/><text y="5">23B</text></g>
<g id="E1-L-19F" class="g" transform="translate(31.5,275.7)"><rect x="-17" y="-8" width="34" rx="2.5"/><text y="5">19F</text></g>
<g id="E1-R-19A" class="o" transform="translate(273,39)"><rect x="-18" y="-8" width="36" rx="2.5"/><text y="5">19A</text></g>
<g id="E1-R-7F" class="b" transform="translate(277.75,65.3)"><rect x="-13.25" y="-8" width="26.5" rx="2.5"/><text y="5">7F</text></g>
<g id="E1-R-35B" class="k" transform="translate(273,91.6)"><rect x="-18" y="-8" width="36" rx="2.5"/><text y="5">35B</text></g>
<g id="E1-R-3" class="o" transform="translate(282,117.9)"><rect x="-9" y="-8" width="18" rx="2.5"/><text y="5">3</text></g>
<g id="E1-R-15BC" class="k" transform="translate(265.5,144.2)"><rect x="-25.5" y="-8" width="51" rx="2.5"/><text y="5">15B/C</text></g>
<g id="E1-R-23B" class="k" transform="translate(273,170.5)"><rect x="-18" y="-8" width="36" rx="2.5"/><text y="5">23B</text></g>
<g id="E1-R-38" class="k" transform="translate(278,196.8)"><rect x="-13" y="-8" width="26" rx="2.5"/><text y="5">38</text></g>
<g id="E1-R-6C" class="k" transform="translate(277,223.1)"><rect x="-14" y="-8" width="28" rx="2.5"/><text y="5">6C</text></g>
<g id="E1-R-19F" class="g" transform="translate(274,249.4)"><rect x="-17" y="-8" width="34" rx="2.5"/><text y="5">19F</text></g>
<g id="E1-R-15A" class="k" transform="translate(273,275.7)"><rect x="-18" y="-8" width="36" rx="2.5"/><text y="5">15A</text></g>
</g>

<g transform="translate(340,702.5)">
<g id="E2-L-19A" class="o" transform="translate(32.5,39)"><rect x="-18" y="-8" width="36" rx="2.5"/><text y="5">19A</text></g>
<g id="E2-L-7F" class="b" transform="translate(27.75,65.3)"><rect x="-13.25" y="-8" width="26.5" rx="2.5"/><text y="5">7F</text></g>
<g id="E2-L-3" class="o" transform="translate(23.5,91.6)"><rect x="-9" y="-8" width="18" rx="2.5"/><text y="5">3</text></g>
<g id="E2-L-6C" class="k" transform="translate(28.5,117.9)"><rect x="-14" y="-8" width="28" rx="2.5"/><text y="5">6C</text></g>
<g id="E2-L-23A" class="k" transform="translate(32.5,144.2)"><rect x="-18" y="-8" width="36" rx="2.5"/><text y="5">23A</text></g>
<g id="E2-L-16F" class="k" transform="translate(31.5,170.5)"><rect x="-17" y="-8" width="34" rx="2.5"/><text y="5">16F</text></g>
<g id="E2-L-4" class="g" transform="translate(23.5,196.8)"><rect x="-9" y="-8" width="18" rx="2.5"/><text y="5">4</text></g>
<g id="E2-L-15A" class="k" transform="translate(32.5,223.1)"><rect x="-18" y="-8" width="36" rx="2.5"/><text y="5">15A</text></g>
<g id="E2-L-35B" class="k" transform="translate(32.5,249.4)"><rect x="-18" y="-8" width="36" rx="2.5"/><text y="5">35B</text></g>
<g id="E2-L-6A" class="o" transform="translate(28.5,275.7)"><rect x="-14" y="-8" width="28" rx="2.5"/><text y="5">6A</text></g>
<g id="E2-R-3" class="o" transform="translate(282,39)"><rect x="-9" y="-8" width="18" rx="2.5"/><text y="5">3</text></g>
<g id="E2-R-19A" class="o" transform="translate(273,65.3)"><rect x="-18" y="-8" width="36" rx="2.5"/><text y="5">19A</text></g>
<g id="E2-R-7F" class="b" transform="translate(277.75,91.6)"><rect x="-13.25" y="-8" width="26.5" rx="2.5"/><text y="5">7F</text></g>
<g id="E2-R-6C" class="k" transform="translate(277,117.9)"><rect x="-14" y="-8" width="28" rx="2.5"/><text y="5">6C</text></g>
<g id="E2-R-23A" class="k" transform="translate(273,144.2)"><rect x="-18" y="-8" width="36" rx="2.5"/><text y="5">23A</text></g>
<g id="E2-R-16F" class="k" transform="translate(274,170.5)"><rect x="-17" y="-8" width="34" rx="2.5"/><text y="5">16F</text></g>
<g id="E2-R-35B" class="k" transform="translate(273,196.8)"><rect x="-18" y="-8" width="36" rx="2.5"/><text y="5">35B</text></g>
<g id="E2-R-15A" class="k" transform="translate(273,223.1)"><rect x="-18" y="-8" width="36" rx="2.5"/><text y="5">15A</text></g>
<g id="E2-R-23B" class="k" transform="translate(273,249.4)"><rect x="-18" y="-8" width="36" rx="2.5"/><text y="5">23B</text></g>
<g id="E2-R-19F" class="g" transform="translate(274,275.7)"><rect x="-17" y="-8" width="34" rx="2.5"/><text y="5">19F</text></g>
</g>
</g>
</svg>
